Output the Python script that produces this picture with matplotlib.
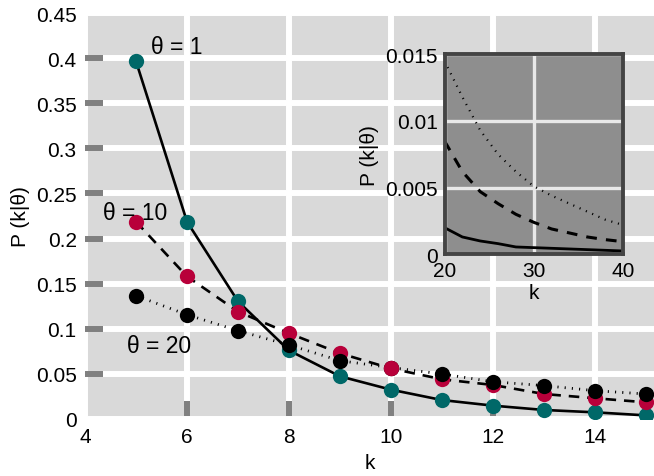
import numpy as np
import matplotlib
matplotlib.use('Agg')
import matplotlib.pyplot as plt

plt.rcParams['font.family'] = ['Liberation Sans', 'DejaVu Sans']

# ── data ────────────────────────────────────────────────────────────────────────
k_main = [5, 6, 7, 8, 9, 10, 11, 12, 13, 14, 15]
p_theta1 = [0.3965, 0.2187, 0.1304, 0.0760, 0.0473, 0.0325, 0.0210, 0.0148, 0.0100, 0.0074, 0.0040]
p_theta10 = [0.2187, 0.1580, 0.1190, 0.0950, 0.0728, 0.0560, 0.0440, 0.0377, 0.0277, 0.0230, 0.0185]
p_theta20 = [0.1367, 0.1156, 0.0979, 0.0820, 0.0646, 0.0570, 0.0499, 0.0413, 0.0370, 0.0314, 0.0277]

k_inset = [20, 22, 24, 26, 28, 30, 32, 34, 36, 38, 40]
q_theta1 = [0.0020, 0.0013, 0.00100, 0.00080, 0.00055, 0.00050, 0.00045, 0.00040, 0.00035, 0.00030, 0.00025]
q_theta10 = [0.0085, 0.0062, 0.0047, 0.0038, 0.0030, 0.0024, 0.0019, 0.0016, 0.0013, 0.0011, 0.00095]
q_theta20 = [0.0145, 0.0118, 0.0093, 0.0075, 0.0062, 0.0051, 0.0044, 0.0038, 0.0032, 0.0026, 0.0022]

labels = ['θ = 1', 'θ = 10', 'θ = 20']
label_pos = [(5.3, 0.413), (4.35, 0.229), (4.83, 0.082)]

x_ticks = [4, 6, 8, 10, 12, 14]
y_ticks = [0, 0.05, 0.1, 0.15, 0.2, 0.25, 0.3, 0.35, 0.4, 0.45]
y_ticklabels = ['0', '0.05', '0.1', '0.15', '0.2', '0.25', '0.3', '0.35', '0.4', '0.45']

# ── style ───────────────────────────────────────────────────────────────────────
TEAL = '#006868'
RED = '#b8003a'
BLACK = '#000000'
FS = 15

fig = plt.figure(figsize=(6.54, 4.77), dpi=100)
ax = fig.add_axes([85 / 654, 57 / 477, 569 / 654, 406 / 477])
ax.set_facecolor('#d9d9d9')
for s in ax.spines.values():
    s.set_visible(False)

ax.plot(k_main, p_theta1, color=BLACK, lw=1.9, ls='-', zorder=3)
ax.plot(k_main, p_theta10, color=BLACK, lw=1.9, ls=(0, (4.0, 3.0)), zorder=3)
ax.plot(k_main, p_theta20, color=BLACK, lw=2.0, ls=(0, (0.4, 2.2)), zorder=3)

ax.plot(k_main, p_theta1, ls='none', marker='o', ms=11, color=TEAL, mec='none', zorder=4)
ax.plot(k_main, p_theta10, ls='none', marker='o', ms=11, color=RED, mec='none', zorder=5)
ax.plot(k_main, p_theta20, ls='none', marker='o', ms=11, color=BLACK, mec='none', zorder=6)
# at k = 10 the red point sits on top of the black one
i10 = k_main.index(10)
ax.plot([k_main[i10]], [p_theta10[i10]], ls='none', marker='o', ms=11, color=RED,
        mec='none', zorder=7)

for txt, (x, y) in zip(labels, label_pos):
    ax.text(x, y, txt, fontsize=16.5, ha='left', va='center', zorder=8)

ax.set_xlim(4, 4 + 569 / 51)
ax.set_ylim(0, 0.45)
ax.set_xticks(x_ticks)
ax.set_xticklabels([str(t) for t in x_ticks])
ax.set_yticks(y_ticks)
ax.set_yticklabels(y_ticklabels)
ax.grid(True, color='white', lw=4.3)
ax.set_axisbelow(True)
ax.tick_params(direction='in', length=13, width=4.3, color='#808080',
               labelsize=FS, pad=6)
for t in ax.xaxis.get_major_ticks()[:1] + ax.yaxis.get_major_ticks()[:1] + ax.yaxis.get_major_ticks()[-1:]:
    t.tick1line.set_visible(False)
ax.set_xlabel('k', fontsize=FS, labelpad=5)
ax.set_ylabel('P (k|θ)', fontsize=FS, labelpad=4)

# ── inset ───────────────────────────────────────────────────────────────────────
ins = fig.add_axes([444.5 / 654, (477 - 255.3) / 477, 178.5 / 654, 200 / 477])
ins.set_facecolor('#8e8e8e')
for s in ins.spines.values():
    s.set_color('#444444')
    s.set_linewidth(2.8)
ins.plot(k_inset, q_theta1, color=BLACK, lw=2.0, ls='-')
ins.plot(k_inset, q_theta10, color=BLACK, lw=2.2, ls=(0, (3.5, 3.0)))
ins.plot(k_inset, q_theta20, color=BLACK, lw=1.6, ls=(0, (0.5, 2.6)))
ins.set_xlim(20, 40)
ins.set_ylim(0, 0.015)
ins.set_xticks([20, 30, 40])
ins.set_xticklabels(['20', '30', '40'])
ins.set_yticks([0, 0.005, 0.01, 0.015])
ins.set_yticklabels(['0', '0.005', '0.01', '0.015'])
ins.grid(True, color='#e8e8e8', lw=2.4)
ins.tick_params(direction='in', length=0, labelsize=FS, pad=5)
ins.set_xlabel('k', fontsize=FS, labelpad=2)
ins.set_ylabel('P (k|θ)', fontsize=FS, labelpad=4)

fig.savefig('out.png', dpi=100)
